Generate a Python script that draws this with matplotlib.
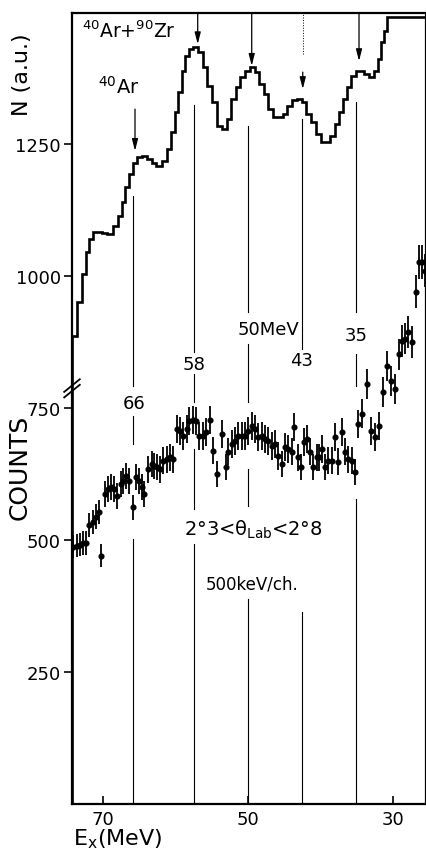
import numpy as np
import matplotlib
matplotlib.use("Agg")
import matplotlib.pyplot as plt

plt.rcParams['font.family'] = ['DejaVu Sans']

# ---------------- data ----------------
# Upper spectrum (N, a.u.) histogram: bin edges in Ex (MeV) and heights
hist_edges = [74.28, 73.59, 72.90, 72.35, 71.93, 71.38, 70.83, 70.14, 69.45, 68.62,
              67.93, 67.38, 66.97, 66.41, 65.86, 65.31, 64.62, 63.93, 63.24, 62.69,
              61.86, 61.17, 60.62, 60.07, 59.66, 59.10, 58.69, 58.14, 57.59, 56.90,
              56.21, 55.66, 54.97, 54.28, 53.59, 52.90, 52.35, 51.66, 51.10, 50.41,
              49.72, 49.03, 48.48, 47.79, 47.24, 46.55, 45.86, 45.17, 44.62, 43.93,
              43.24, 42.55, 42.00, 41.31, 40.62, 39.93, 39.24, 38.69, 38.00, 37.45,
              36.90, 36.34, 35.79, 35.10, 34.55, 34.00, 33.31, 32.62, 32.07, 31.66,
              31.24, 30.83, 25.00]
hist_values = [886, 951, 1004, 1045, 1070, 1083, 1083, 1082, 1080, 1095,
               1114, 1140, 1169, 1193, 1214, 1225, 1227, 1222, 1214, 1208,
               1218, 1241, 1273, 1311, 1349, 1388, 1417, 1430, 1434, 1424,
               1396, 1360, 1330, 1284, 1278, 1297, 1335, 1358, 1377, 1388,
               1396, 1386, 1364, 1345, 1316, 1301, 1301, 1307, 1322, 1333,
               1335, 1330, 1307, 1292, 1269, 1254, 1254, 1265, 1288, 1311,
               1335, 1358, 1379, 1388, 1388, 1383, 1377, 1388, 1411, 1443,
               1464, 1491]

# Lower spectrum (COUNTS) data points
pt_ex = [74.10, 73.63, 73.17, 72.72, 72.35, 71.89, 71.42, 70.97, 70.59, 70.28,
         69.72, 69.27, 68.90, 68.44, 68.03, 67.56, 67.20, 66.83, 66.46, 65.90,
         65.45, 64.99, 64.66, 64.30, 63.75, 63.28, 62.92, 62.51, 62.14, 61.68,
         61.21, 60.76, 60.30, 59.75, 59.38, 58.92, 58.46, 58.10, 57.63, 57.17,
         56.72, 56.25, 55.79, 55.24, 54.79, 54.23, 53.63, 53.08, 52.72, 52.25,
         51.79, 51.34, 50.87, 50.41, 49.96, 49.49, 49.03, 48.58, 48.11, 47.65,
         47.20, 46.73, 46.28, 45.90, 45.35, 44.90, 44.44, 43.97, 43.61, 43.15,
         42.69, 42.28, 41.82, 41.45, 40.99, 40.52, 40.17, 39.79, 39.38, 38.92,
         38.46, 38.00, 37.55, 37.08, 36.62, 36.17, 35.70, 35.24, 34.79, 34.32,
         33.63, 33.08, 32.48, 31.89, 31.34, 30.79, 30.32, 29.72, 29.17, 28.72,
         28.35, 27.89, 27.42, 26.83, 26.41, 26.04, 25.59]
pt_counts = [487, 489, 491, 494, 494, 528, 534, 544, 553, 470,
             587, 597, 600, 597, 583, 606, 612, 621, 612, 562,
             619, 612, 600, 587, 634, 644, 640, 638, 634, 650,
             653, 657, 653, 710, 707, 697, 710, 725, 727, 725,
             697, 697, 705, 727, 669, 625, 701, 638, 667, 682,
             688, 697, 697, 697, 707, 716, 710, 695, 697, 691,
             688, 678, 682, 659, 644, 676, 672, 667, 714, 657,
             638, 686, 691, 667, 638, 657, 657, 672, 638, 650,
             650, 695, 648, 705, 667, 653, 650, 629, 720, 739,
             795, 706, 695, 716, 780, 830, 801, 786, 852, 877,
             881, 894, 875, 970, 1027, 1027, 1010]

# Marked excitation energies (vertical lines) and their labels
line_ex = [65.82, 57.41, 49.96, 42.59, 35.10]
line_labels = ["66", "58", "50MeV", "43", "35"]
# Arrow positions on the upper spectrum
arrow_ex = [65.59, 56.94, 49.49, 42.45, 34.69]

x_ticks = [70, 50, 30]
y_ticks = [250, 500, 750, 1000, 1250]

# ---------------- figure ----------------
fig = plt.figure(figsize=(4.27, 8.54), dpi=100)
ax = fig.add_axes([72/427, 1-805/854, 354/427, 791/854])
ax.set_xlim(74.28, 25.45)
ax.set_ylim(0, 1498)

# vertical marker lines (segments interrupted around labels and data)
segments = [
    [(0, 502), (682, 735), (792, 1152)],
    [(0, 492), (559, 672), (761, 814), (856, 1324)],
    [(0, 388), (564, 634), (761, 871), (932, 1284)],
    [(0, 364), (862, 1297)],
    [(0, 578), (792, 852), (932, 1330)],
]
for ex, segs in zip(line_ex, segments):
    for lo, hi in segs:
        ax.plot([ex, ex], [lo, hi], color='black', lw=0.8, zorder=1)

# histogram
e = np.array(hist_edges)
v = np.array(hist_values)
ax.stairs(v[::-1], e[::-1], color='black', lw=1.9, zorder=3)

# data points with statistical error bars
c = np.array(pt_counts)
ax.errorbar(pt_ex, c, yerr=np.sqrt(c), fmt='o', color='black', ms=3.4,
            elinewidth=1.3, capsize=0, zorder=4)

# arrows
arrow_spans = [(1316, 1237), (1498, 1439), (1498, 1398), (1386, 1354), (1498, 1407)]
for ex, (y0, y1) in zip(arrow_ex, arrow_spans):
    ax.annotate('', xy=(ex, y1), xytext=(ex, y0),
                arrowprops=dict(arrowstyle='-|>,head_length=0.7,head_width=0.18',
                                color='black', lw=0.9, shrinkA=0, shrinkB=0),
                zorder=5)
ax.plot([arrow_ex[3], arrow_ex[3]], [1420, 1498], color='black', lw=0.7, ls=':')

# line labels
label_pos = [(65.72, 759), (57.45, 833), (47.24, 900), (42.55, 841), (35.10, 888)]
for txt, (lx, ly) in zip(line_labels, label_pos):
    ax.text(lx, ly, txt, ha='center', va='center', fontsize=13)

ax.text(72.9, 1466, r'$^{40}$Ar+$^{90}$Zr', ha='left', va='center', fontsize=13.5)
ax.text(67.9, 1360, r'$^{40}$Ar', ha='center', va='center', fontsize=14)
ax.text(49.3, 521, r'2°3<θ$_{\mathrm{Lab}}$<2°8', ha='center', va='center', fontsize=14)
ax.text(49.45, 417, '500keV/ch.', ha='center', va='center', fontsize=12)

# axes styling
for s in ['left', 'bottom', 'top', 'right']:
    ax.spines[s].set_linewidth(1.6)
ax.set_xticks(x_ticks)
ax.set_xticklabels([str(t) for t in x_ticks], fontsize=13)
ax.set_yticks(y_ticks)
ax.set_yticklabels([str(t) for t in y_ticks], fontsize=13)
ax.tick_params(axis='x', direction='in', length=6, width=1.2, pad=4)
ax.tick_params(axis='y', direction='out', length=6, width=1.2, pad=2)

# axis break marks on the left spine
for dy in (0.0, 0.007):
    ax.plot([-0.022, 0.022], [0.514 + dy, 0.530 + dy], transform=ax.transAxes,
            color='black', lw=1.3, clip_on=False)

fig.text(22/427, 1-75/854, 'N (a.u.)', rotation=90, ha='center', va='center', fontsize=16)
fig.text(20/427, 1-467/854, 'COUNTS', rotation=90, ha='center', va='center', fontsize=18)
fig.text(73/427, 1-839/854, r'E$_{\mathrm{x}}$(MeV)', ha='left', va='center', fontsize=16)

fig.savefig('out.png', dpi=100)
